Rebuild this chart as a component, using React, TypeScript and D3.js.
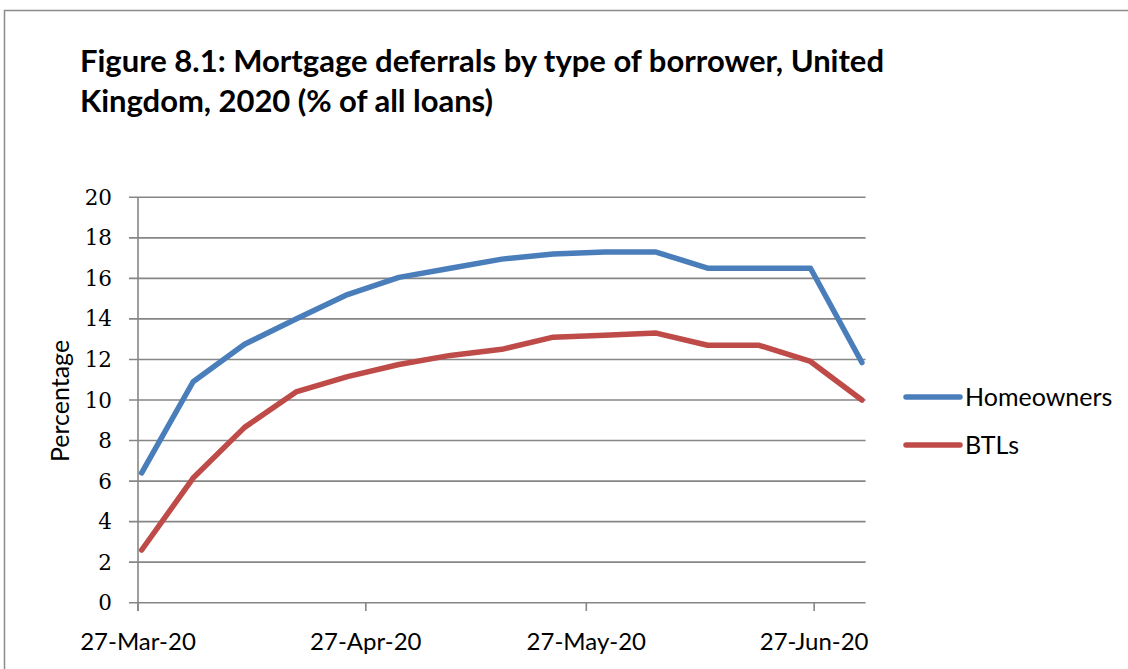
import React from "react";
import * as d3 from "d3";

const dates = [
  "2020-03-27", "2020-04-03", "2020-04-10", "2020-04-17", "2020-04-24",
  "2020-05-01", "2020-05-08", "2020-05-15", "2020-05-22", "2020-05-29",
  "2020-06-05", "2020-06-12", "2020-06-19", "2020-06-26", "2020-07-03",
];
const homeowners = [6.4, 10.9, 12.75, 14.0, 15.2, 16.05, 16.5, 16.95, 17.2, 17.3, 17.3, 16.5, 16.5, 16.5, 11.85];
const btls = [2.6, 6.15, 8.65, 10.4, 11.15, 11.75, 12.2, 12.5, 13.1, 13.2, 13.3, 12.7, 12.7, 11.9, 10.0];
const xTicks = ["2020-03-27", "2020-04-27", "2020-05-27", "2020-06-27"];
const yTicks = [0, 2, 4, 6, 8, 10, 12, 14, 16, 18, 20];
const seriesNames = ["Homeowners", "BTLs"];
const colors = ["#4A7EBB", "#BE4B48"];

const parse = d3.utcParse("%Y-%m-%d");
const fmt = d3.utcFormat("%d-%b-%y");

export default function App() {
  const W = 1128, H = 669;
  const x = d3.scaleUtc().domain([parse("2020-03-27")!, parse("2020-07-04")!]).range([138, 865.6]);
  const y = d3.scaleLinear().domain([0, 20]).range([602.7, 197.3]);
  const px = (d: string) => x(d3.utcHour.offset(parse(d)!, 12));
  const line = d3.line<[string, number]>().x((d) => px(d[0])).y((d) => y(d[1]));
  const series = [homeowners, btls];
  const sans = "Lato, 'Open Sans', sans-serif";
  return (
    <svg width={W} height={H} style={{ position: "absolute", left: 0, top: 0, background: "#fff" }}>
      <rect x={0} y={0} width={W} height={H} fill="#fff" />
      <rect x={4.5} y={10.5} width={1200} height={700} fill="none" stroke="#8c8c8c" strokeWidth={1.5} />
      <text x={80} y={72} fontFamily={sans} fontWeight="bold" fontSize={31} fill="#000" textLength={804} lengthAdjust="spacing">
        Figure 8.1: Mortgage deferrals by type of borrower, United
      </text>
      <text x={80} y={112} fontFamily={sans} fontWeight="bold" fontSize={31} fill="#000" textLength={413} lengthAdjust="spacing">
        Kingdom, 2020 (% of all loans)
      </text>
      {yTicks.map((t) => (
        <g key={t}>
          <line x1={129} x2={865.6} y1={y(t)} y2={y(t)} stroke="#868686" strokeWidth={1.6} />
          <text x={112} y={y(t)} dy="0.35em" textAnchor="end" fontFamily="'DejaVu Serif', serif" fontSize={21.5} fill="#000">
            {t}
          </text>
        </g>
      ))}
      <line x1={138} x2={138} y1={197.3} y2={611} stroke="#868686" strokeWidth={1.6} />
      {xTicks.map((t) => (
        <g key={t}>
          <line x1={x(parse(t)!)} x2={x(parse(t)!)} y1={602.7} y2={611} stroke="#868686" strokeWidth={1.6} />
          <text x={x(parse(t)!)} y={650} textAnchor="middle" fontFamily={sans} fontSize={24} fill="#000">
            {fmt(parse(t)!)}
          </text>
        </g>
      ))}
      <text transform="translate(69,401) rotate(-90)" textAnchor="middle" fontFamily={sans} fontSize={25} fill="#000">
        Percentage
      </text>
      {series.map((s, i) => (
        <path key={i} d={line(dates.map((d, j) => [d, s[j]]))!} fill="none" stroke={colors[i]} strokeWidth={5.5} strokeLinejoin="round" strokeLinecap="round" />
      ))}
      {seriesNames.map((n, i) => (
        <g key={n}>
          <line x1={906} x2={960} y1={397 + i * 48} y2={397 + i * 48} stroke={colors[i]} strokeWidth={5.5} strokeLinecap="round" />
          <text x={965} y={397 + i * 48} dy="0.36em" fontFamily={sans} fontSize={25} fill="#000">
            {n}
          </text>
        </g>
      ))}
    </svg>
  );
}
